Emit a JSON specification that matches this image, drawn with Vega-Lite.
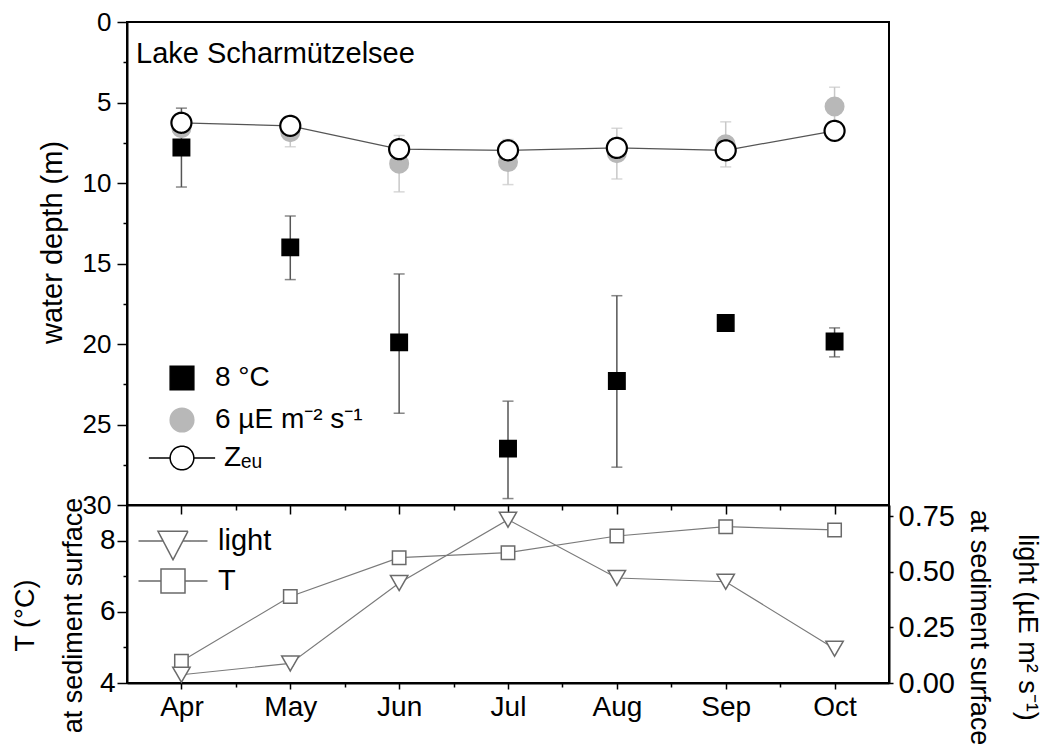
{
  "$schema": "https://vega.github.io/schema/vega-lite/v6.json",
  "padding": {"left": 10, "top": 8, "right": 5, "bottom": 5},
  "config": {
    "font": "Liberation Sans",
    "view": {"stroke": "black", "strokeWidth": 2},
    "axis": {"domainColor": "black", "domainWidth": 2, "tickColor": "black", "tickWidth": 1.5, "labelColor": "black", "titleColor": "black", "titleFontWeight": "normal", "grid": false, "labelFlush": false, "labelOverlap": false, "labelBound": false, "labelFont": "Liberation Sans", "titleFont": "Liberation Sans"},
    "legend": {"labelColor": "black", "labelFont": "Liberation Sans", "title": null, "padding": 0, "labelLimit": 0}
  },
  "datasets": {
    "t8": [
      {"month": "Apr", "m": 4, "depth": 7.8, "lo": 5.35, "hi": 10.25},
      {"month": "May", "m": 5, "depth": 14.0, "lo": 12.05, "hi": 16.0},
      {"month": "Jun", "m": 6, "depth": 19.9, "lo": 15.65, "hi": 24.3},
      {"month": "Jul", "m": 7, "depth": 26.5, "lo": 23.55, "hi": 29.6},
      {"month": "Aug", "m": 8, "depth": 22.3, "lo": 17.0, "hi": 27.65},
      {"month": "Sep", "m": 9, "depth": 18.7, "lo": null, "hi": null},
      {"month": "Oct", "m": 10, "depth": 19.85, "lo": 19.0, "hi": 20.8}
    ],
    "light6": [
      {"month": "Apr", "m": 4, "depth": 6.6, "lo": 6.3, "hi": 6.9},
      {"month": "May", "m": 5, "depth": 6.85, "lo": 5.95, "hi": 7.75},
      {"month": "Jun", "m": 6, "depth": 8.8, "lo": 7.05, "hi": 10.55},
      {"month": "Jul", "m": 7, "depth": 8.7, "lo": 7.3, "hi": 10.1},
      {"month": "Aug", "m": 8, "depth": 8.15, "lo": 6.6, "hi": 9.75},
      {"month": "Sep", "m": 9, "depth": 7.6, "lo": 6.2, "hi": 9.0},
      {"month": "Oct", "m": 10, "depth": 5.25, "lo": 4.05, "hi": 6.45}
    ],
    "zeu": [
      {"month": "Apr", "m": 4, "depth": 6.26},
      {"month": "May", "m": 5, "depth": 6.45},
      {"month": "Jun", "m": 6, "depth": 7.9},
      {"month": "Jul", "m": 7, "depth": 7.97},
      {"month": "Aug", "m": 8, "depth": 7.82},
      {"month": "Sep", "m": 9, "depth": 7.97},
      {"month": "Oct", "m": 10, "depth": 6.76}
    ],
    "tser": [
      {"month": "Apr", "m": 4, "T": 4.61},
      {"month": "May", "m": 5, "T": 6.43},
      {"month": "Jun", "m": 6, "T": 7.52},
      {"month": "Jul", "m": 7, "T": 7.66},
      {"month": "Aug", "m": 8, "T": 8.13},
      {"month": "Sep", "m": 9, "T": 8.39},
      {"month": "Oct", "m": 10, "T": 8.3}
    ],
    "lser": [
      {"month": "Apr", "m": 4, "light": 0.037},
      {"month": "May", "m": 5, "light": 0.088},
      {"month": "Jun", "m": 6, "light": 0.449},
      {"month": "Jul", "m": 7, "light": 0.734},
      {"month": "Aug", "m": 8, "light": 0.472},
      {"month": "Sep", "m": 9, "light": 0.455},
      {"month": "Oct", "m": 10, "light": 0.154}
    ]
  },
  "vconcat": [
    {
      "width": 762,
      "height": 483,
      "title": {"text": "Lake Scharmützelsee", "anchor": "start", "frame": "group", "fontSize": 29, "fontWeight": "normal", "font": "Liberation Sans", "color": "black", "offset": -60, "dx": 9},
      "layer": [
        {
          "data": {"name": "t8"},
          "transform": [{"filter": "datum.lo != null"}],
          "mark": {"type": "errorbar", "ticks": true, "size": 11, "thickness": 1.5, "color": "#555555"},
          "encoding": {
            "x": {"field": "m", "type": "quantitative", "title": null, "scale": {"domain": [3.5, 10.5], "nice": false, "zero": false},
              "axis": {"values": [4, 4.5, 5, 5.5, 6, 6.5, 7, 7.5, 8, 8.5, 9, 9.5, 10], "labels": false, "title": null,
                "tickSize": {"condition": {"test": "datum.value % 1 === 0", "value": 9}, "value": 5}}},
            "y": {"field": "lo", "type": "quantitative", "title": "water depth (m)", "scale": {"domain": [0, 30], "reverse": true, "nice": false, "zero": false},
              "axis": {"values": [0, 2.5, 5, 7.5, 10, 12.5, 15, 17.5, 20, 22.5, 25, 27.5, 30],
                "labelExpr": "datum.value % 5 === 0 ? datum.label : ''",
                "tickSize": {"condition": {"test": "datum.value % 5 === 0", "value": 10}, "value": 4},
                "labelFontSize": 26, "labelPadding": 6, "title": "water depth (m)", "titleFontSize": 29, "titlePadding": 15, "titleY": 220}},
            "y2": {"field": "hi", "title": "water depth (m)"}
          }
        },
        {
          "data": {"name": "light6"},
          "mark": {"type": "errorbar", "ticks": true, "size": 11, "thickness": 1.5, "color": "#c8c8c8"},
          "encoding": {
            "x": {"field": "m", "type": "quantitative", "title": null},
            "y": {"field": "lo", "type": "quantitative", "title": "water depth (m)"},
            "y2": {"field": "hi", "title": "water depth (m)"}
          }
        },
        {
          "data": {"name": "light6"},
          "mark": {"type": "point", "shape": "circle", "filled": true, "fill": "#b8b8b8", "opacity": 1, "strokeWidth": 2, "size": 324},
          "encoding": {
            "x": {"field": "m", "type": "quantitative", "title": null},
            "y": {"field": "depth", "type": "quantitative", "title": "water depth (m)"},
            "stroke": {"datum": "6 µE m⁻² s⁻¹", "type": "nominal", "scale": {"domain": ["6 µE m⁻² s⁻¹"], "range": ["#b8b8b8"]},
              "legend": {"orient": "none", "legendX": 41, "legendY": 384, "symbolType": "circle", "symbolSize": 560, "labelFontSize": 28, "labelOffset": 19,
                "encode": {"symbols": {"fill": {"value": "#b8b8b8"}, "strokeWidth": {"value": 2}, "opacity": {"value": 1}}}}}
          }
        },
        {
          "data": {"name": "zeu"},
          "mark": {"type": "line", "color": "#555555", "strokeWidth": 1.2},
          "encoding": {
            "x": {"field": "m", "type": "quantitative", "title": null},
            "y": {"field": "depth", "type": "quantitative", "title": "water depth (m)"}
          }
        },
        {
          "data": {"name": "zeu"},
          "mark": {"type": "point", "shape": "circle", "filled": true, "fill": "white", "stroke": "black", "opacity": 1, "strokeWidth": 2.2, "size": 400},
          "encoding": {
            "x": {"field": "m", "type": "quantitative", "title": null},
            "y": {"field": "depth", "type": "quantitative", "title": "water depth (m)"},
            "strokeDash": {"datum": "Zₑᵤ", "type": "nominal", "scale": {"domain": ["Zₑᵤ"], "range": [[1, 0]]},
              "legend": {"orient": "none", "legendX": 41, "legendY": 422, "symbolType": "M-2.8,0H-1M1,0H2.8M1,0A1,1,0,1,1,-1,0A1,1,0,1,1,1,0Z", "symbolSize": 560, "labelFontSize": 28, "labelOffset": 28,
                "encode": {"symbols": {"fill": {"value": "white"}, "stroke": {"value": "black"}, "strokeWidth": {"value": 2}, "opacity": {"value": 1}}}}}
          }
        },
        {
          "data": {"name": "t8"},
          "mark": {"type": "point", "shape": "square", "filled": true, "stroke": "black", "opacity": 1, "strokeWidth": 1.5, "size": 270},
          "encoding": {
            "x": {"field": "m", "type": "quantitative", "title": null},
            "y": {"field": "depth", "type": "quantitative", "title": "water depth (m)"},
            "fill": {"datum": "8 °C", "type": "nominal", "scale": {"domain": ["8 °C"], "range": ["black"]},
              "legend": {"orient": "none", "legendX": 41, "legendY": 342, "symbolType": "square", "symbolSize": 560, "labelFontSize": 28, "labelOffset": 19,
                "encode": {"symbols": {"stroke": {"value": "black"}, "opacity": {"value": 1}}}}}
          }
        }
      ]
    },
    {
      "width": 762,
      "height": 178,
      "layer": [
        {
          "data": {"name": "tser"},
          "layer": [
            {
              "mark": {"type": "line", "color": "#7a7a7a", "strokeWidth": 1.2},
              "encoding": {
                "x": {"field": "m", "type": "quantitative", "scale": {"domain": [3.5, 10.5], "nice": false, "zero": false},
                  "axis": {"values": [4, 4.5, 5, 5.5, 6, 6.5, 7, 7.5, 8, 8.5, 9, 9.5, 10],
                    "labelExpr": "datum.value % 1 === 0 ? ['Apr','May','Jun','Jul','Aug','Sep','Oct'][datum.value - 4] : ''",
                    "tickSize": {"condition": {"test": "datum.value % 1 === 0", "value": 6}, "value": 4},
                    "labelFontSize": 28, "labelPadding": 4, "title": null}},
                "y": {"field": "T", "type": "quantitative", "scale": {"domain": [4, 9], "nice": false, "zero": false},
                  "axis": {"orient": "left", "values": [4, 5, 6, 7, 8],
                    "labelExpr": "datum.value % 2 === 0 ? datum.label : ''",
                    "tickSize": {"condition": {"test": "datum.value % 2 === 0", "value": 10}, "value": 4},
                    "labelFontSize": 28, "labelPadding": 2, "title": ["T (°C)", "at sediment surface"], "titleFontSize": 27, "titleLineHeight": 48, "titlePadding": 12, "titleY": 110}}
              }
            },
            {
              "mark": {"type": "point", "shape": "square", "filled": true, "fill": "white", "strokeWidth": 1.5, "opacity": 1, "size": 180},
              "encoding": {
                "x": {"field": "m", "type": "quantitative"},
                "y": {"field": "T", "type": "quantitative"},
                "stroke": {"datum": "T", "type": "nominal", "scale": {"domain": ["T"], "range": ["#6a6a6a"]},
                  "legend": {"orient": "none", "legendX": 30, "legendY": 60, "symbolType": "M-2.3,0H-0.8M0.8,0H2.3M-0.8,-0.8H0.8V0.8H-0.8Z", "symbolSize": 900, "labelFontSize": 29, "labelOffset": 29,
                    "encode": {"symbols": {"fill": {"value": "white"}, "strokeWidth": {"value": 1.5}, "opacity": {"value": 1}}}}}
              }
            }
          ]
        },
        {
          "data": {"name": "lser"},
          "layer": [
            {
              "mark": {"type": "line", "color": "#7a7a7a", "strokeWidth": 1.2},
              "encoding": {
                "x": {"field": "m", "type": "quantitative"},
                "y": {"field": "light", "type": "quantitative", "scale": {"domain": [0, 0.8], "nice": false, "zero": false},
                  "axis": {"orient": "right", "values": [0, 0.25, 0.5, 0.75], "format": ".2f", "tickSize": 4,
                    "labelFontSize": 29, "labelPadding": 5, "title": ["light (µE m² s⁻¹)", "at sediment surface"], "titleAngle": 90, "titleFontSize": 27, "titleLineHeight": 48, "titlePadding": 10, "titleY": 122}}
              }
            },
            {
              "mark": {"type": "point", "shape": "triangle-down", "filled": true, "fill": "white", "stroke": "#6a6a6a", "strokeWidth": 1.5, "opacity": 1, "size": 300},
              "encoding": {
                "x": {"field": "m", "type": "quantitative"},
                "y": {"field": "light", "type": "quantitative"},
                "strokeDash": {"datum": "light", "type": "nominal", "scale": {"domain": ["light"], "range": [[1, 0]]},
                  "legend": {"orient": "none", "legendX": 30, "legendY": 20, "symbolType": "M-2.3,0H-0.66M0.66,0H2.3M-1,-0.65L1,-0.65L0,1.25Z", "symbolSize": 900, "labelFontSize": 29, "labelOffset": 29,
                    "encode": {"symbols": {"fill": {"value": "white"}, "stroke": {"value": "#6a6a6a"}, "strokeWidth": {"value": 1.5}, "opacity": {"value": 1}}}}}
              }
            }
          ]
        }
      ],
      "resolve": {"scale": {"y": "independent"}}
    }
  ],
  "spacing": 0,
  "bounds": "flush",
  "resolve": {"scale": {"shape": "independent", "fill": "independent", "stroke": "independent", "strokeDash": "independent"}, "legend": {"shape": "independent", "fill": "independent", "stroke": "independent", "strokeDash": "independent"}}
}
